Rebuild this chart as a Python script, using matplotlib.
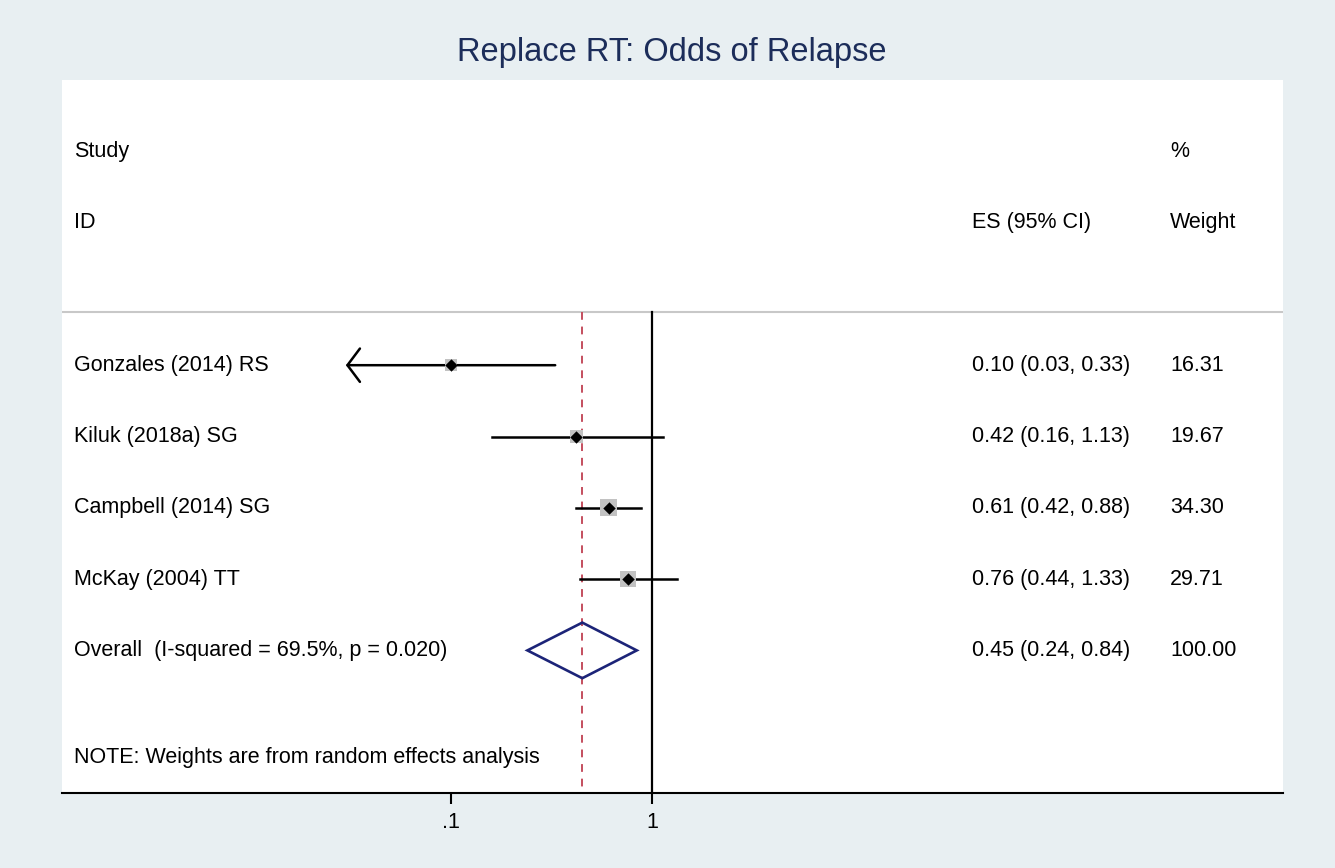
import numpy as np
import matplotlib.pyplot as plt
from matplotlib.transforms import blended_transform_factory

studies = ["Gonzales (2014) RS", "Kiluk (2018a) SG", "Campbell (2014) SG", "McKay (2004) TT"]
es = [0.10, 0.42, 0.61, 0.76]
ci_low = [0.03, 0.16, 0.42, 0.44]
ci_high = [0.33, 1.13, 0.88, 1.33]
weights = [16.31, 19.67, 34.30, 29.71]

overall_label = "Overall  (I-squared = 69.5%, p = 0.020)"
overall_es = 0.45
overall_low = 0.24
overall_high = 0.84
overall_weight = 100.00

# Gonzales lower CI runs past the plotted range -> arrow
arrow_rows = [0]

tick_vals = [0.1, 1]
tick_labels = [".1", "1"]

BG = "#e8eff2"
FS = 15.5

plt.rcParams['font.family'] = ["Liberation Sans", 'DejaVu Sans']

fig = plt.figure(figsize=(13.35, 8.68), dpi=100, facecolor=BG)
ax = fig.add_axes([62 / 1335, 1 - 793 / 868, 1221 / 1335, 713 / 868])
ax.set_facecolor("white")
ax.set_xscale("log")
ax.set_xlim(10 ** -2.935, 10 ** 3.139)
ax.set_ylim(7, -3)

for s in ["top", "right", "left"]:
    ax.spines[s].set_visible(False)
ax.spines["bottom"].set_linewidth(1.5)
ax.set_yticks([])
ax.set_xticks(tick_vals)
ax.set_xticklabels(tick_labels, fontsize=FS)
ax.xaxis.set_minor_locator(plt.NullLocator())
ax.tick_params(axis="x", length=8, width=1.5, pad=6)

rows = np.arange(1, len(studies) + 1)
overall_row = len(studies) + 1

# header separator
ax.axhline(0.26, color="#c8c8c8", lw=1.5)

# null line and overall effect line
ax.plot([1, 1], [0.26, 7], color="black", lw=1.6)
ax.plot([overall_es, overall_es], [0.26, 7], color="#c44e5e", lw=1.4,
        linestyle=(0, (4, 3.5)))

# study CIs, weight boxes and point estimates
for i, y in enumerate(rows):
    if i in arrow_rows:
        ax.annotate("", xy=(ci_low[i], y), xytext=(ci_high[i], y),
                    arrowprops=dict(arrowstyle="->,head_length=0.75,head_width=1.0",
                                    lw=1.8, color="black", mutation_scale=12,
                                    shrinkA=0, shrinkB=0))
    else:
        ax.plot([ci_low[i], ci_high[i]], [y, y], color="black", lw=1.8)

ax.scatter(es, rows, s=np.array(weights) * 4.5, marker="s", color="#c2c2c2",
           zorder=3, linewidths=0)
ax.scatter(es, rows, s=40, marker="D", color="black", zorder=4, linewidths=0)

# overall diamond
ax.fill([overall_low, overall_es, overall_high, overall_es, overall_low],
        [overall_row, overall_row - 0.39, overall_row, overall_row + 0.39, overall_row],
        facecolor="none", edgecolor="#1c2478", lw=1.9, zorder=5)

# text columns
tr = blended_transform_factory(ax.transAxes, ax.transData)
x_id, x_es, x_w = 0.0098, 0.745, 0.9075

ax.text(x_id, -2, "Study", transform=tr, fontsize=FS, va="center")
ax.text(x_id, -1, "ID", transform=tr, fontsize=FS, va="center")
ax.text(x_es, -1, "ES (95% CI)", transform=tr, fontsize=FS, va="center")
ax.text(x_w, -2, "%", transform=tr, fontsize=FS, va="center")
ax.text(x_w, -1, "Weight", transform=tr, fontsize=FS, va="center")

for i, y in enumerate(rows):
    ax.text(x_id, y, studies[i], transform=tr, fontsize=FS, va="center")
    ax.text(x_es, y, f"{es[i]:.2f} ({ci_low[i]:.2f}, {ci_high[i]:.2f})",
            transform=tr, fontsize=FS, va="center")
    ax.text(x_w, y, f"{weights[i]:.2f}", transform=tr, fontsize=FS, va="center")

ax.text(x_id, overall_row, overall_label, transform=tr, fontsize=FS, va="center")
ax.text(x_es, overall_row, f"{overall_es:.2f} ({overall_low:.2f}, {overall_high:.2f})",
        transform=tr, fontsize=FS, va="center")
ax.text(x_w, overall_row, f"{overall_weight:.2f}", transform=tr, fontsize=FS, va="center")

ax.text(x_id, 6.5, "NOTE: Weights are from random effects analysis", transform=tr,
        fontsize=FS, va="center")

fig.text(672 / 1335, 1 - 52 / 868, "Replace RT: Odds of Relapse", ha="center",
         va="center", fontsize=23.5, color="#1c2d5a")

fig.savefig("out.png", dpi=100, facecolor=BG)
